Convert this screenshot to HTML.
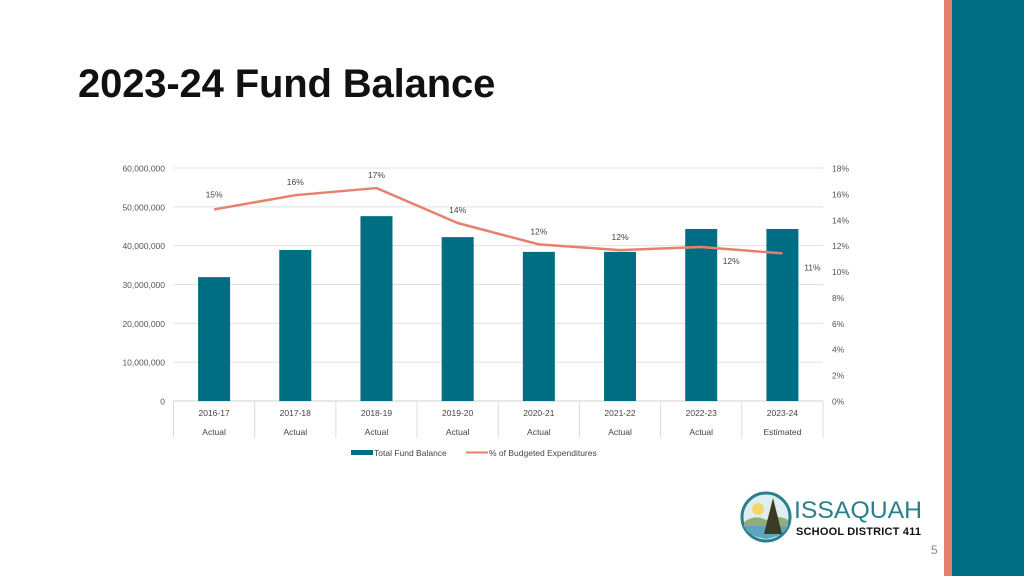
<!DOCTYPE html>
<html><head><meta charset="utf-8"><style>
body{margin:0;width:1024px;height:576px;background:#fff;overflow:hidden;font-family:"Liberation Sans",Arial,sans-serif;position:relative}
h1{position:absolute;left:78px;top:62px;margin:0;font-size:40px;font-weight:bold;color:#111;letter-spacing:-0.15px}
</style></head><body>
<h1>2023-24 Fund Balance</h1>
<div style="position:absolute;left:944px;top:0;width:8px;height:576px;background:#e8806e"></div>
<div style="position:absolute;left:952px;top:0;width:72px;height:576px;background:#006e82"></div>
<div style="position:absolute;left:931px;top:543px;font-size:12px;color:#888">5</div>
<svg style="position:absolute;left:740px;top:490px" width="190" height="56">
<circle cx="26" cy="27" r="24" fill="#dfeef0" stroke="#2a7f8c" stroke-width="3"/>
<circle cx="18" cy="19" r="6" fill="#f3d66a"/>
<path d="M4 32 Q15 24 26 30 Q38 24 48 30 L48 36 L4 36Z" fill="#8fae7a"/>
<path d="M4 36 L48 36 Q44 46 26 49 Q8 46 4 36Z" fill="#5ea6c0"/>
<path d="M33 8 L42 44 L24 44Z" fill="#3c3a22"/>
<text x="54" y="28" font-size="24" fill="#2a7f8c" font-family="Liberation Sans" textLength="128" lengthAdjust="spacingAndGlyphs">ISSAQUAH</text>
<text x="56" y="45" font-size="11" font-weight="bold" fill="#111" textLength="125">SCHOOL DISTRICT 411</text>
</svg>
<svg id="chart" style="position:absolute;left:0;top:0" width="940" height="576"></svg>
<script>
const categories=["2016-17","2017-18","2018-19","2019-20","2020-21","2021-22","2022-23","2023-24"];
const subLabels=["Actual","Actual","Actual","Actual","Actual","Actual","Actual","Estimated"];
const fundBalance=[31900000,38900000,47600000,42200000,38400000,38400000,44300000,44300000];
const pctBudget=[14.8,15.9,16.45,13.75,12.1,11.66,11.9,11.4];
const pctLabels=["15%","16%","17%","14%","12%","12%","12%","11%"];
const leftTicks=[0,10000000,20000000,30000000,40000000,50000000,60000000];
const rightTicks=[0,2,4,6,8,10,12,14,16,18];
const NS="http://www.w3.org/2000/svg",svg=document.getElementById('chart');
const x0=173.5,x1=823,yTop=168,yBot=401,step=(x1-x0)/categories.length;
const yL=v=>yBot-(v/60000000)*(yBot-yTop);
const yR=v=>yBot-(v/18)*(yBot-yTop);
const xc=i=>x0+step*(i+0.5);
function el(t,a,txt){const e=document.createElementNS(NS,t);for(const k in a)e.setAttribute(k,a[k]);if(txt!=null)e.textContent=txt;svg.appendChild(e);return e;}
leftTicks.forEach(v=>{
 const g=el('line',{x1:x0,x2:x1,y1:yL(v),y2:yL(v),stroke:v?'#e0e0e0':'#d0d0d0','stroke-width':1});
 
 
 const t=el('text',{x:165,y:yL(v)+3.5,'font-size':8.5,fill:'#555','text-anchor':'end'},v.toLocaleString('en-US'));
 
 
});
rightTicks.forEach(v=>{
 const t=el('text',{x:832,y:yR(v)+3.5,'font-size':8.5,fill:'#555'},v+'%');
 
 
});
for(let i=0;i<=categories.length;i++){
 const d=el('line',{x1:x0+step*i,x2:x0+step*i,y1:yBot,y2:438,stroke:'#dcdcdc'});
 
 
}
categories.forEach((c,i)=>{
 const b=el('rect',{x:xc(i)-16,y:yL(fundBalance[i]),width:32,height:yBot-yL(fundBalance[i]),fill:'#006e82'});
 
 
 const t=el('text',{x:xc(i),y:416,'font-size':8.5,fill:'#444','text-anchor':'middle'},c);
 
 
 const s=el('text',{x:xc(i),y:435,'font-size':8.5,fill:'#444','text-anchor':'middle'},subLabels[i]);
 
 
});
const pts=pctBudget.map((v,i)=>xc(i)+','+yR(v)).join(' ');
const ln=el('polyline',{points:pts,fill:'none',stroke:'#e8806e','stroke-width':2.5,'stroke-linejoin':'round'});


pctBudget.forEach((v,i)=>{
 let x=xc(i),y=yR(v)-10;
 if(i>=6){x=xc(i)+30;y=yR(v)+17;}
 else if(i===0)y=yR(v)-12;
 const t=el('text',{x:x,y:y,'font-size':8.5,fill:'#444','text-anchor':'middle'},pctLabels[i]);
 
 
});
const lb=el('rect',{x:351,y:450,width:22,height:5,fill:'#006e82'});


const lt=el('text',{x:374,y:456,'font-size':8.5,fill:'#444'},'Total Fund Balance');


const ll=el('line',{x1:466,x2:488,y1:452.5,y2:452.5,stroke:'#e8806e','stroke-width':2});


const lt2=el('text',{x:489,y:456,'font-size':8.5,fill:'#444'},'% of Budgeted Expenditures');


</script>
</body></html>
